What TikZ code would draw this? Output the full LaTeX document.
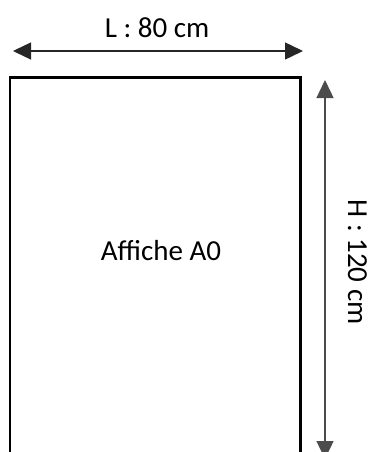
\documentclass[tikz,border=0pt]{standalone}
\usepackage{fontspec}
\setmainfont{Carlito}
\usetikzlibrary{arrows.meta}
\tikzset{
  dim/.style={line width=1.4pt, {Triangle[length=18pt,width=17pt]}-{Triangle[length=18pt,width=17pt]}},
  lbl/.style={font=\fontsize{29}{34}\selectfont, inner sep=0pt},
  sheet/.style={draw=black, line width=2.5pt}
}
\begin{document}
\begin{tikzpicture}[x=1pt,y=-1pt]
\useasboundingbox (0,0) rectangle (369,452);
\clip (0,0) rectangle (369,452);
\draw[sheet] (10,77.5) rectangle (300.5,520);
\node[lbl] (aff) at (161,251) {Affiche A0};
\coordinate (hl) at (13,51);
\coordinate (hr) at (303,51);
\draw[dim, black!85] (hl) -- (hr);
\node[lbl] (L) at (157,28) {L : 80 cm};
\coordinate (vt) at (325,80);
\coordinate (vb) at (325,459);
\draw[dim, black!70] (vt) -- (vb);
\node[lbl, rotate=-90] (H) at (357.5,262) {H : 120 cm};
\end{tikzpicture}
\end{document}
